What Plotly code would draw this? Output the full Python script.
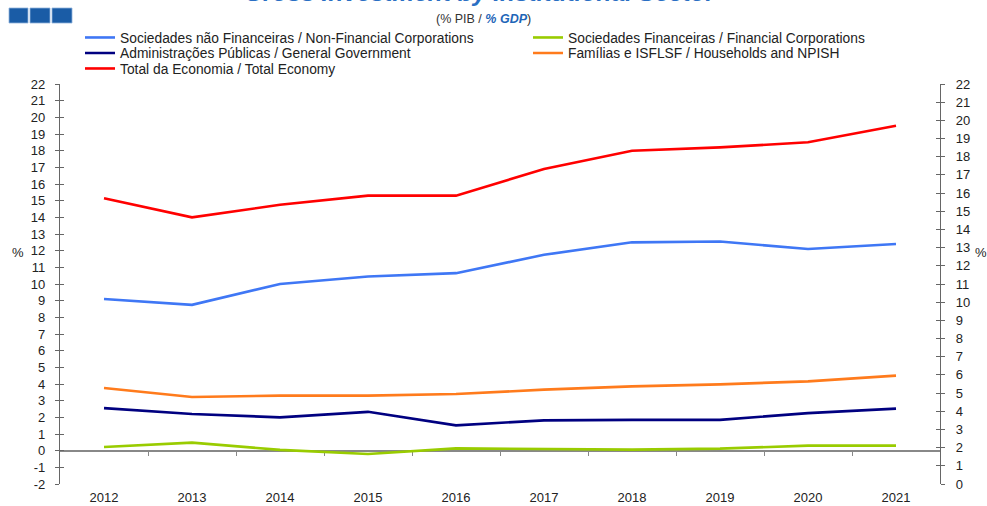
import plotly.graph_objects as go

# ---- data ----
years = [2012, 2013, 2014, 2015, 2016, 2017, 2018, 2019, 2020, 2021]
nfc = [9.1, 8.75, 10.0, 10.45, 10.65, 11.75, 12.5, 12.55, 12.1, 12.4]
fc = [0.22, 0.48, 0.05, -0.2, 0.14, 0.1, 0.06, 0.12, 0.3, 0.3]
gg = [2.55, 2.2, 2.0, 2.33, 1.52, 1.82, 1.85, 1.85, 2.25, 2.52]
hh = [3.76, 3.22, 3.3, 3.3, 3.4, 3.66, 3.86, 3.98, 4.16, 4.5]
total = [15.15, 14.0, 14.75, 15.3, 15.3, 16.9, 18.0, 18.2, 18.5, 19.5]

names = [
    "Sociedades não Financeiras / Non-Financial Corporations",
    "Sociedades Financeiras / Financial Corporations",
    "Administrações Públicas / General Government",
    "Famílias e ISFLSF / Households and NPISH",
    "Total da Economia / Total Economy",
]
colors = ["#3f77f5", "#99cc00", "#000080", "#ff7b1c", "#ff0000"]
legend_ids = ["legend", "legend2", "legend3", "legend4", "legend5"]
series = [nfc, fc, gg, hh, total]

left_ticks = [-2, -1, 0, 1, 2, 3, 4, 5, 6, 7, 8, 9, 10, 11, 12, 13, 14, 15, 16, 17, 18, 19, 20, 21, 22]
right_ticks = [0, 1, 2, 3, 4, 5, 6, 7, 8, 9, 10, 11, 12, 13, 14, 15, 16, 17, 18, 19, 20, 21, 22]
left_range = [-2, 22]
right_range = [0, 22]
year_bounds = [2012.5, 2013.5, 2014.5, 2015.5, 2016.5, 2017.5, 2018.5, 2019.5, 2020.5]

FONT = "Liberation Sans, Arial, sans-serif"
VW, VH = 987, 506          # browser viewport (page margin removed below)
PL, PR, PT, PB = 60, 940, 84, 484   # plot area in viewport pixels
PW, PH = PR - PL, PB - PT

def px_x(p):
    return (p - PL) / PW

def px_y(p):
    return (PB - p) / PH

fig = go.Figure()

for nm, col, ys, lg in zip(names, colors, series, legend_ids):
    fig.add_trace(go.Scatter(x=years, y=ys, name=nm, mode="lines", legend=lg,
                             line=dict(color=col, width=2.6)))

# helper invisible traces so the overlay axes render
for xa, ya in [("x2", "y"), ("x", "y2"), ("x", "y3"), ("x", "y4")]:
    fig.add_trace(go.Scatter(x=[None], y=[None], xaxis=xa, yaxis=ya,
                             showlegend=False, hoverinfo="skip"))

zero_pos = (0 - left_range[0]) / (left_range[1] - left_range[0])

axis_font = dict(family=FONT, size=13, color="#222222")
leg_font = dict(family=FONT, size=13.8, color="#222222")

def leg(xleft, ycenter):
    return dict(orientation="h", x=px_x(xleft), y=px_y(ycenter), xanchor="left",
                yanchor="middle", font=leg_font, bgcolor="rgba(0,0,0,0)", itemwidth=30)

fig.update_layout(
    width=VW, height=VH,
    margin=dict(l=PL, r=VW - PR, t=PT, b=VH - PB, autoexpand=False),
    paper_bgcolor="white", plot_bgcolor="white",
    font=dict(family=FONT, size=13, color="#222222"),
    showlegend=True,
    legend=leg(80, 37.5), legend2=leg(528, 37.5),
    legend3=leg(80, 53), legend4=leg(528, 53),
    legend5=leg(80, 68.5),
    xaxis=dict(range=[2011.5, 2021.5], tickvals=years, showgrid=False, zeroline=False,
               showline=False, ticks="", tickfont=axis_font, ticklabelstandoff=4,
               automargin=False),
    xaxis2=dict(range=[2011.5, 2021.5], overlaying="x", anchor="free", position=zero_pos,
                tickvals=year_bounds, ticks="outside", ticklen=5, tickcolor="#888888",
                tickwidth=1.2, showticklabels=False, showline=True, linecolor="#888888",
                linewidth=1.6, showgrid=False, zeroline=False, layer="below traces",
                automargin=False),
    yaxis=dict(range=left_range, tickvals=left_ticks, ticktext=[str(v) for v in left_ticks],
               showgrid=False, zeroline=False,
               showline=True, linecolor="#666666", linewidth=1.2,
               ticks="outside", ticklen=4, tickcolor="#666666", tickwidth=1.2,
               tickfont=axis_font, ticklabelstandoff=7, automargin=False),
    yaxis3=dict(range=left_range, tickvals=left_ticks, overlaying="y", side="left",
                showgrid=False, zeroline=False, showline=False, ticks="inside",
                ticklen=4, tickcolor="#666666", tickwidth=1.2, showticklabels=False,
                automargin=False),
    yaxis2=dict(range=right_range, tickvals=right_ticks, ticktext=[str(v) for v in right_ticks],
                overlaying="y", side="right",
                showgrid=False, zeroline=False, showline=True, linecolor="#666666",
                linewidth=1.2, ticks="outside", ticklen=4, tickcolor="#666666",
                tickwidth=1.2, tickfont=axis_font, ticklabelstandoff=8, automargin=False),
    yaxis4=dict(range=right_range, tickvals=right_ticks, overlaying="y", side="right",
                showgrid=False, zeroline=False, showline=False, ticks="inside",
                ticklen=4, tickcolor="#666666", tickwidth=1.2, showticklabels=False,
                automargin=False),
)

# header decorations: three blue squares
for x0, x1 in [(9, 28), (30, 50), (52, 72)]:
    fig.add_shape(type="rect", xref="paper", yref="paper",
                  x0=px_x(x0), x1=px_x(x1), y0=px_y(23), y1=px_y(8),
                  fillcolor="#1a5ca6", line=dict(color="#8fb3dc", width=0.8))

annotations = [
    dict(text="<b><i>Gross Investment by Institutional Sector</i></b>", x=px_x(480), y=px_y(7.5),
         xanchor="center", yanchor="bottom",
         font=dict(family=FONT, size=24.5, color="#2a6fc4"), showarrow=False),
    dict(text="(% PIB / <b><i><span style='color:#1f66b8'>% GDP</span></i></b>)",
         x=px_x(483), y=px_y(19), xanchor="center", yanchor="middle",
         font=dict(family=FONT, size=12.5, color="#333333"), showarrow=False),
    dict(text="%", x=px_x(18), y=px_y(252), xanchor="center", yanchor="middle",
         font=dict(family=FONT, size=13, color="#222222"), showarrow=False),
    dict(text="%", x=px_x(981), y=px_y(252), xanchor="center", yanchor="middle",
         font=dict(family=FONT, size=13, color="#222222"), showarrow=False),
]
for a in annotations:
    a.update(xref="paper", yref="paper")
    fig.add_annotation(**a)

fig.write_html("out.html", config={"displayModeBar": False},
               post_script="document.body.style.margin='0px';document.body.style.overflow='hidden';")
